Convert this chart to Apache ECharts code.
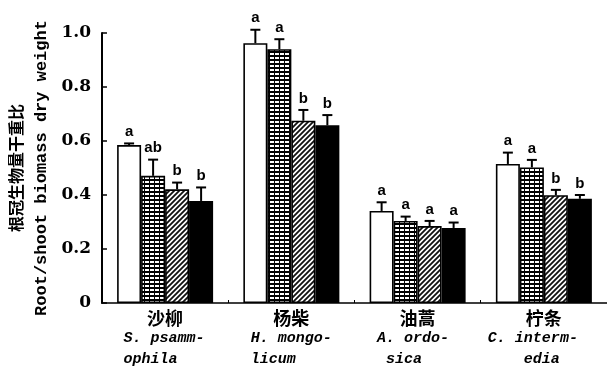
<!DOCTYPE html>
<html>
<head>
<meta charset="utf-8">
<script src="https://cdn.jsdelivr.net/npm/echarts@6/dist/echarts.min.js"></script>
<style>
  html, body { margin: 0; padding: 0; background: #fff; }
  #chart { width: 607px; height: 367px; }
</style>
</head>
<body>
<div id="chart"></div>
<script>
// Species (categories) and their Latin names, split over two lines
const species = ['沙柳', '杨柴', '油蒿', '柠条'];
const latinLine1 = ['S. psamm-', 'H. mongo-', 'A. ordo-', 'C. interm-'];
const latinLine2 = ['ophila', 'licum', ' sica', '    edia'];

// Root/shoot ratio for the four treatments
const treatA = [0.585, 0.962, 0.341, 0.515];
const treatB = [0.471, 0.940, 0.304, 0.502];
const treatC = [0.421, 0.675, 0.285, 0.399];
const treatD = [0.378, 0.658, 0.278, 0.386];

// Standard errors
const errA = [0.006, 0.050, 0.032, 0.042];
const errB = [0.060, 0.037, 0.016, 0.028];
const errC = [0.025, 0.040, 0.019, 0.020];
const errD = [0.050, 0.038, 0.020, 0.014];

// Significance letters
const sigA = ['a', 'a', 'a', 'a'];
const sigB = ['ab', 'a', 'a', 'a'];
const sigC = ['b', 'b', 'a', 'b'];
const sigD = ['b', 'b', 'a', 'b'];

// Y-axis ticks
const yTicks = { min: 0, max: 1, interval: 0.2 };

// --- fill patterns ---
function gridPattern() {
  const c = document.createElement('canvas');
  c.width = 5; c.height = 4;
  const g = c.getContext('2d');
  g.fillStyle = '#000'; g.fillRect(0, 0, 5, 4);
  g.fillStyle = '#fff'; g.fillRect(0, 1, 4, 2);
  return c;
}
function hatchPattern() {
  const c = document.createElement('canvas');
  c.width = 5; c.height = 5;
  const g = c.getContext('2d');
  g.fillStyle = '#fff'; g.fillRect(0, 0, 5, 5);
  g.strokeStyle = '#111'; g.lineWidth = 1.8;
  g.beginPath();
  g.moveTo(-1, 6); g.lineTo(6, -1);
  g.moveTo(-1, 1); g.lineTo(1, -1);
  g.moveTo(4, 6); g.lineTo(6, 4);
  g.stroke();
  return c;
}

const BAR_W = 24;
const fills = ['#ffffff', { image: gridPattern(), repeat: 'repeat' }, { image: hatchPattern(), repeat: 'repeat' }, '#000000'];
const values = [treatA, treatB, treatC, treatD];
const errors = [errA, errB, errC, errD];
const sigs = [sigA, sigB, sigC, sigD];

const chart = echarts.init(document.getElementById('chart'), null, { renderer: 'canvas' });

const series = [];
values.forEach((vals, k) => {
  series.push({
    type: 'bar',
    data: vals,
    barWidth: BAR_W,
    barGap: '0%',
    itemStyle: { color: fills[k], borderColor: '#000', borderWidth: 1.6 },
    silent: true,
    z: 2
  });
});
values.forEach((vals, k) => {
  const offset = (k - 1.5) * BAR_W;
  series.push({
    type: 'custom',
    data: vals.map((v, i) => [i, v, errors[k][i]]),
    z: 5,
    silent: true,
    renderItem(params, api) {
      const i = params.dataIndex;
      const base = api.coord([api.value(0), api.value(1)]);
      const top = api.coord([api.value(0), api.value(1) + api.value(2)]);
      const x = base[0] + offset;
      return {
        type: 'group',
        children: [
          { type: 'line', shape: { x1: x, y1: base[1], x2: x, y2: top[1] }, style: { stroke: '#000', lineWidth: 2 } },
          { type: 'line', shape: { x1: x - 5, y1: top[1], x2: x + 5, y2: top[1] }, style: { stroke: '#000', lineWidth: 2 } },
          { type: 'text', x: x, y: top[1] - 4,
            style: { text: sigs[k][i], textAlign: 'center', textVerticalAlign: 'bottom',
                     font: 'bold 15px "Liberation Sans", Arial, sans-serif', fill: '#000' } }
        ]
      };
    }
  });
});

const laBase = { fontFamily: '"Liberation Mono", "DejaVu Sans Mono", monospace', fontStyle: 'italic', fontWeight: 'bold', fontSize: 15, lineHeight: 21, color: '#000', align: 'left' };
const laPad = [[0, 2, 0, 0], [0, 0, 0, 0], [0, 9, 0, 0], [0, 22, 0, 0]];
const rich = {
  cn: { fontFamily: '"Noto Sans CJK SC", sans-serif', fontWeight: 'bold', fontSize: 18, lineHeight: 20, color: '#000', align: 'center' }
};
laPad.forEach((p, i) => { rich['la' + i] = Object.assign({}, laBase, { padding: p }); });

chart.setOption({
  animation: false,
  backgroundColor: '#fff',
  grid: { left: 101, top: 33, width: 508, bottom: 64, containLabel: false },
  xAxis: {
    type: 'category',
    data: species,
    axisLine: { show: true, lineStyle: { color: '#000', width: 1.5 } },
    axisTick: { show: true, inside: true, length: 3, lineStyle: { color: '#000' } },
    axisLabel: {
      margin: 5,
      formatter: (v, i) => `{cn|${v}}\n{la${i}|${latinLine1[i]}}\n{la${i}|${latinLine2[i]}}`,
      rich: rich
    },
    splitLine: { show: false }
  },
  yAxis: {
    type: 'value',
    min: yTicks.min, max: yTicks.max, interval: yTicks.interval,
    axisLine: { show: true, lineStyle: { color: '#000', width: 2 } },
    axisTick: { show: true, inside: true, length: 5, lineStyle: { color: '#000', width: 1.5 } },
    splitLine: { show: false },
    axisLabel: {
      margin: 11,
      color: '#000',
      fontFamily: '"DejaVu Serif", serif',
      fontWeight: 'bold',
      fontSize: 17,
      formatter: v => (v === 0 ? '0' : v.toFixed(1))
    },
    name: '{cn|根冠生物量干重比}\n{en|Root/shoot biomass dry weight}',
    nameLocation: 'middle',
    nameGap: 50,
    nameRotate: 90,
    nameTextStyle: {
      rich: {
        cn: { fontFamily: '"Noto Sans CJK SC", sans-serif', fontWeight: 'bold', fontSize: 16, lineHeight: 36, color: '#000' },
        en: { fontFamily: '"Liberation Mono", "DejaVu Sans Mono", monospace', fontWeight: 'bold', fontSize: 17, lineHeight: 16, color: '#000' }
      }
    }
  },
  series: series
});
</script>
</body>
</html>
